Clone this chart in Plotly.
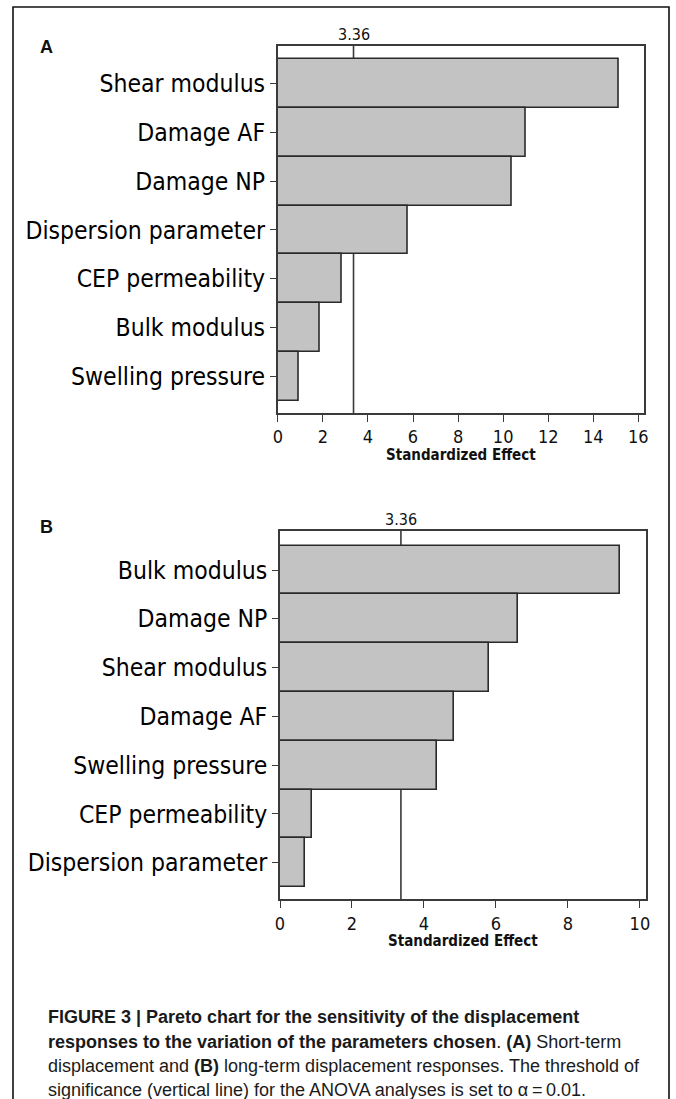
import plotly.graph_objects as go

# Panel A: short-term displacement, standardized effects (top to bottom)
factors_a = ["Shear modulus", "Damage AF", "Damage NP", "Dispersion parameter",
             "CEP permeability", "Bulk modulus", "Swelling pressure"]
effects_a = [15.13, 11.02, 10.38, 5.77, 2.85, 1.87, 0.93]

# Panel B: long-term displacement, standardized effects (top to bottom)
factors_b = ["Bulk modulus", "Damage NP", "Shear modulus", "Damage AF",
             "Swelling pressure", "CEP permeability", "Dispersion parameter"]
effects_b = [9.45, 6.62, 5.81, 4.84, 4.35, 0.90, 0.70]

threshold = 3.36
ticks_a = [0, 2, 4, 6, 8, 10, 12, 14, 16]
ticks_b = [0, 2, 4, 6, 8, 10]

caption_lines = [
    "<b>FIGURE 3 | Pareto chart for the sensitivity of the displacement</b>",
    "<b>responses to the variation of the parameters chosen</b>. <b>(A)</b> Short-term",
    "displacement and <b>(B)</b> long-term displacement responses. The threshold of",
    "significance (vertical line) for the ANOVA analyses is set to α\u2009=\u20090.01.",
]

W, H = 676, 1099
COND = "DejaVu Sans Condensed, DejaVu Sans, sans-serif"
SANS = "Liberation Sans, Arial, Helvetica, sans-serif"
BAR_FILL = "#c3c3c3"
EDGE = "#2a2a2a"


def px_x(p):
    return p / W


def px_y(p):
    return 1 - p / H


fig = go.Figure()

for cats, vals, xa, ya in [(factors_a, effects_a, "x", "y"),
                           (factors_b, effects_b, "x2", "y2")]:
    fig.add_trace(go.Bar(
        y=cats, x=vals, orientation="h", xaxis=xa, yaxis=ya,
        width=1.0, marker=dict(color=BAR_FILL, line=dict(color=EDGE, width=1.6)),
        showlegend=False, hoverinfo="x+y",
    ))

axis_common = dict(
    showline=True, mirror=True, linecolor="#3a3a3a", linewidth=1.6,
    showgrid=False, zeroline=False, ticks="outside", tickcolor="#3a3a3a",
    tickwidth=1.2, automargin=False,
)

fig.update_layout(
    width=W, height=H, margin=dict(l=0, r=0, t=0, b=0, autoexpand=False),
    paper_bgcolor="white", plot_bgcolor="white", bargap=0,
    xaxis=dict(domain=[px_x(277.8), px_x(644)], range=[0, 16.25], anchor="y",
               tickvals=ticks_a, ticklen=7,
               tickfont=dict(family=COND, size=18, color="#111"), **axis_common),
    yaxis=dict(domain=[px_y(413), px_y(46)], anchor="x", type="category",
               categoryorder="array", categoryarray=factors_a,
               range=[6.75, -0.77], ticklen=6,
               tickfont=dict(family=COND, size=24.5, color="#000"), **axis_common),
    xaxis2=dict(domain=[px_x(280), px_x(646)], range=[0, 10.17], anchor="y2",
                tickvals=ticks_b, ticklen=7,
                tickfont=dict(family=COND, size=18, color="#111"), **axis_common),
    yaxis2=dict(domain=[px_y(899.3), px_y(531)], anchor="x2", type="category",
                categoryorder="array", categoryarray=factors_b,
                range=[6.75, -0.80], ticklen=6,
                tickfont=dict(family=COND, size=24.5, color="#000"), **axis_common),
)

# Significance threshold lines, drawn beneath the bars
for xa, ya in [("x", "y"), ("x2", "y2")]:
    fig.add_shape(type="line", xref=xa, yref=f"{ya} domain",
                  x0=threshold, x1=threshold, y0=0, y1=1,
                  line=dict(color="#3a3a3a", width=1.6), layer="below")
    fig.add_annotation(xref=xa, yref=f"{ya} domain", x=threshold, y=1,
                       xanchor="center", yanchor="bottom", showarrow=False,
                       text=f"{threshold:.2f}",
                       font=dict(family=COND, size=16, color="#111"))

# Axis titles
for xcen, ycen in [((277.8 + 644) / 2, 455), ((280 + 646) / 2, 941)]:
    fig.add_annotation(xref="paper", yref="paper", x=px_x(xcen), y=px_y(ycen),
                       xanchor="center", yanchor="middle",
                       text="<b>Standardized Effect</b>", showarrow=False,
                       font=dict(family=COND, size=15, color="#111"))

# Panel letters
for letter, ycen in [("A", 47), ("B", 527)]:
    fig.add_annotation(xref="paper", yref="paper", x=px_x(38), y=px_y(ycen),
                       xanchor="left", yanchor="middle",
                       text=f"<b>{letter}</b>", showarrow=False,
                       font=dict(family=SANS, size=18, color="#111"))

# Caption, one line per annotation
for line, ycen in zip(caption_lines, [1017, 1041.5, 1066, 1090]):
    fig.add_annotation(xref="paper", yref="paper", x=px_x(46), y=px_y(ycen),
                       xanchor="left", yanchor="middle", align="left",
                       showarrow=False, text=line,
                       font=dict(family=SANS, size=18, color="#1a1a1a"))

# Outer frame around the figure
fig.add_shape(type="rect", xref="paper", yref="paper",
              x0=px_x(13), x1=px_x(669), y0=px_y(1110), y1=px_y(7),
              line=dict(color="#111", width=1.6), fillcolor="rgba(0,0,0,0)")

fig.write_html("out.html")
